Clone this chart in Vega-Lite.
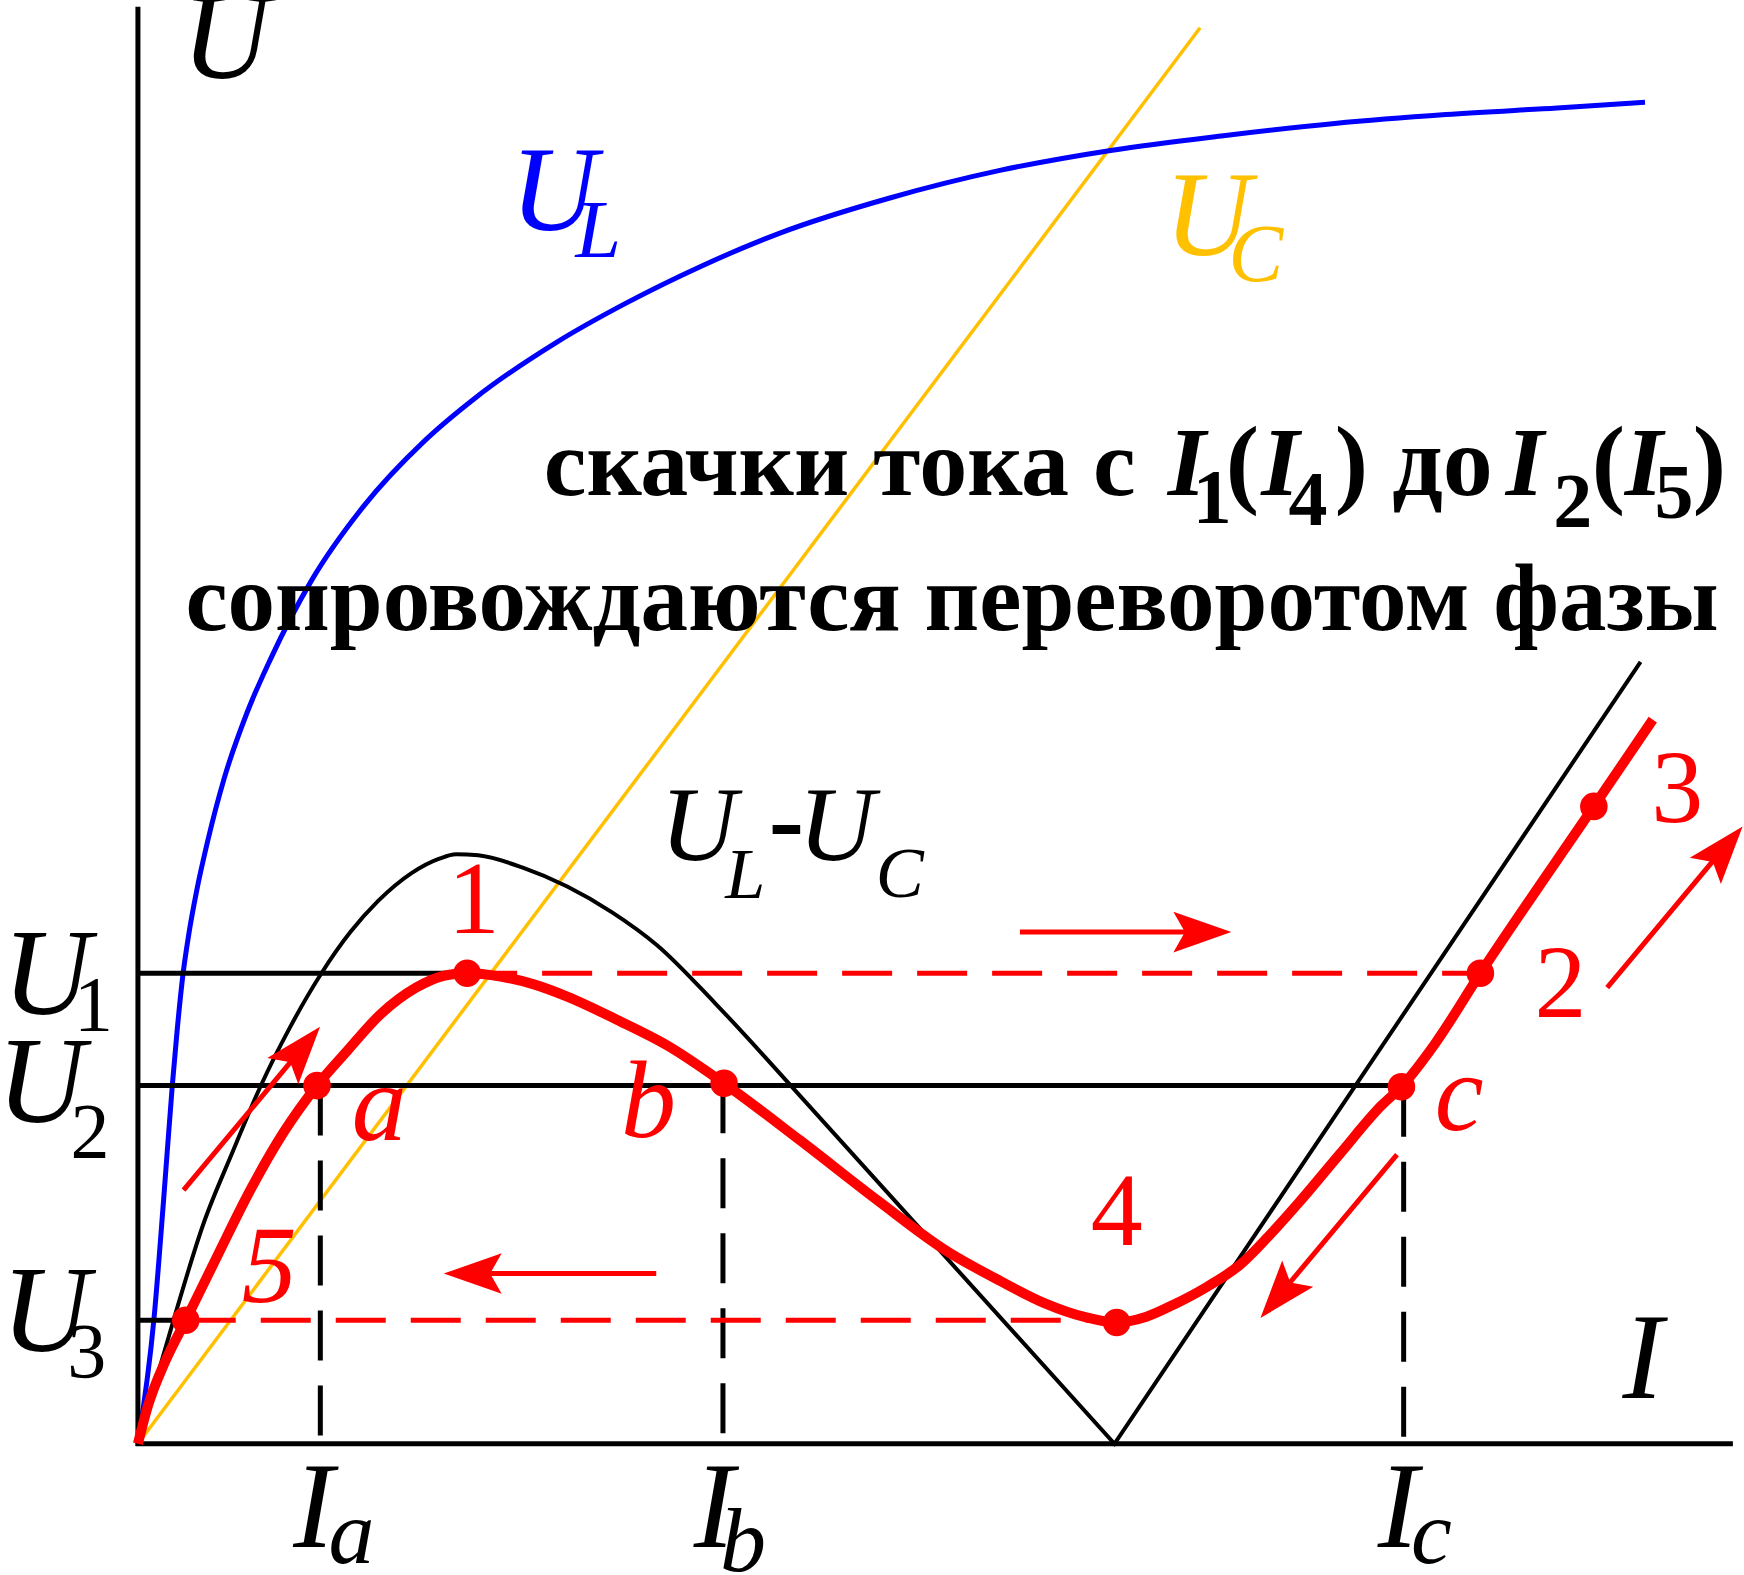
{
  "$schema": "https://vega.github.io/schema/vega-lite/v6.json",
  "width": 1744,
  "height": 1575,
  "autosize": {"type": "none"},
  "padding": 0,
  "background": "white",
  "config": {"view": {"stroke": null}},
  "datasets": {
    "ul": [
      {"I": 0, "U": 0}, {"I": 14.5, "U": 113}, {"I": 23, "U": 218}, {"I": 30.9, "U": 322},
      {"I": 35.3, "U": 372}, {"I": 40.5, "U": 422}, {"I": 45.4, "U": 456}, {"I": 53, "U": 498},
      {"I": 63, "U": 543}, {"I": 77.5, "U": 598}, {"I": 98, "U": 657}, {"I": 119, "U": 705},
      {"I": 156, "U": 776}, {"I": 203, "U": 843}, {"I": 257, "U": 901}, {"I": 303, "U": 940},
      {"I": 376, "U": 990}, {"I": 438, "U": 1025}, {"I": 505, "U": 1058}, {"I": 576, "U": 1088},
      {"I": 676, "U": 1120}, {"I": 776, "U": 1145}, {"I": 876, "U": 1163}, {"I": 976, "U": 1176},
      {"I": 1076, "U": 1187}, {"I": 1176, "U": 1195}, {"I": 1276, "U": 1201}, {"I": 1355, "U": 1206}
    ],
    "uc": [{"I": 0, "U": 0}, {"I": 955, "U": 1273}],
    "diffc": [
      {"I": 0, "U": 0}, {"I": 16, "U": 56}, {"I": 32, "U": 111}, {"I": 59, "U": 198},
      {"I": 85, "U": 262}, {"I": 111, "U": 323}, {"I": 136, "U": 373}, {"I": 165, "U": 423},
      {"I": 191, "U": 460}, {"I": 216, "U": 488}, {"I": 246, "U": 513}, {"I": 271, "U": 526},
      {"I": 286, "U": 530}, {"I": 306, "U": 529}, {"I": 346, "U": 518}, {"I": 386, "U": 501},
      {"I": 426, "U": 478}, {"I": 467, "U": 448}, {"I": 519, "U": 396}, {"I": 587, "U": 322}
    ],
    "diffv": [{"I": 587, "U": 322}, {"I": 878, "U": 0}, {"I": 1351, "U": 703}],
    "red": [
      {"I": 0, "U": 0}, {"I": 9, "U": 34}, {"I": 25, "U": 75}, {"I": 43, "U": 111},
      {"I": 71, "U": 168}, {"I": 101, "U": 228}, {"I": 131, "U": 280}, {"I": 161, "U": 322},
      {"I": 188, "U": 353}, {"I": 218, "U": 386}, {"I": 250, "U": 410}, {"I": 276, "U": 421},
      {"I": 296, "U": 423}, {"I": 326, "U": 420}, {"I": 356, "U": 413}, {"I": 386, "U": 402},
      {"I": 431, "U": 381}, {"I": 476, "U": 358}, {"I": 527, "U": 324},
      {"I": 595, "U": 273}, {"I": 666, "U": 218}, {"I": 726, "U": 174}, {"I": 776, "U": 146},
      {"I": 816, "U": 126}, {"I": 851, "U": 114}, {"I": 880, "U": 109}, {"I": 906, "U": 114},
      {"I": 931, "U": 125}, {"I": 961, "U": 141}, {"I": 991, "U": 161}, {"I": 1016, "U": 186},
      {"I": 1043, "U": 216}, {"I": 1081, "U": 261}, {"I": 1118, "U": 304}, {"I": 1136, "U": 321},
      {"I": 1165, "U": 358}, {"I": 1207, "U": 423}, {"I": 1309, "U": 573}, {"I": 1362, "U": 651}
    ],
    "dots": [
      {"I": 43, "U": 111}, {"I": 161, "U": 322}, {"I": 296, "U": 423}, {"I": 527, "U": 324},
      {"I": 880, "U": 109}, {"I": 1136, "U": 321}, {"I": 1207, "U": 423}, {"I": 1309, "U": 573}
    ],
    "axes": [
      {"I": 0, "U": -2, "I2": 0, "U2": 1292},
      {"I": -2, "U": 0, "I2": 1434, "U2": 0}
    ],
    "hlines": [
      {"I": 0, "U": 423, "I2": 282, "U2": 423},
      {"I": 0, "U": 322, "I2": 1136, "U2": 322},
      {"I": 0, "U": 111, "I2": 43, "U2": 111}
    ],
    "vdash": [
      {"I": 164, "U": 322, "I2": 164, "U2": 0},
      {"I": 526, "U": 324, "I2": 526, "U2": 0},
      {"I": 1138, "U": 321, "I2": 1138, "U2": 0}
    ],
    "rdash": [
      {"I": 296, "U": 423, "I2": 1207, "U2": 423},
      {"I": 43, "U": 111, "I2": 880, "U2": 111}
    ],
    "shafts": [
      {"I": 41, "U": 228, "I2": 143, "U2": 350},
      {"I": 1321, "U": 410, "I2": 1422, "U2": 531},
      {"I": 1132, "U": 260, "I2": 1030, "U2": 138},
      {"I": 793, "U": 460, "I2": 955, "U2": 460},
      {"I": 466, "U": 153, "I2": 305, "U2": 153}
    ],
    "head40": [{"I": 147, "U": 355}, {"I": 1426, "U": 535}],
    "head220": [{"I": 1026, "U": 133}],
    "head90": [{"I": 957, "U": 460}],
    "head270": [{"I": 301, "U": 153}],
    "italicBig": [
      {"I": 79, "U": 1228, "t": "U"},
      {"I": -82, "U": 386, "t": "U"},
      {"I": -87, "U": 289, "t": "U"},
      {"I": -83, "U": 83, "t": "U"},
      {"I": 1353, "U": 41, "t": "I"},
      {"I": 158, "U": -93, "t": "I"},
      {"I": 518, "U": -93, "t": "I"},
      {"I": 1133, "U": -93, "t": "I"}
    ],
    "italicSub": [
      {"I": 192, "U": -107, "t": "a"},
      {"I": 544, "U": -114, "t": "b"},
      {"I": 1163, "U": -107, "t": "c"}
    ],
    "digitSub": [
      {"I": -40, "U": 372, "t": "1"},
      {"I": -43, "U": 258, "t": "2"},
      {"I": -46, "U": 60, "t": "3"}
    ],
    "ulMain": [{"I": 374, "U": 1091, "t": "U"}],
    "ulSub": [{"I": 414, "U": 1067, "t": "L"}],
    "ucMain": [{"I": 962, "U": 1069, "t": "U"}],
    "ucSub": [{"I": 1005, "U": 1045, "t": "C"}],
    "dMain": [{"I": 504, "U": 525, "t": "U"}, {"I": 628, "U": 525, "t": "U"}],
    "dSub": [{"I": 546, "U": 491, "t": "L"}, {"I": 685, "U": 492, "t": "C"}],
    "dMinus": [{"I": 583, "U": 530, "t": "-"}],
    "redDigits": [
      {"I": 302, "U": 459, "t": "1"},
      {"I": 1279, "U": 384, "t": "2"},
      {"I": 1384, "U": 559, "t": "3"},
      {"I": 880, "U": 179, "t": "4"}
    ],
    "redItalic": [
      {"I": 118, "U": 127, "t": "5"},
      {"I": 217, "U": 273, "t": "a"},
      {"I": 459, "U": 276, "t": "b"},
      {"I": 1188, "U": 282, "t": "c"}
    ],
    "ruLine2": [{"I": 732, "U": 732, "t": "сопровождаются переворотом фазы"}],
    "ruLine1a": [{"I": 897, "U": 853, "t": "скачки тока с"}],
    "ruLine1b": [
      {"I": 993, "U": 853, "t": "("},
      {"I": 1091, "U": 853, "t": ")"},
      {"I": 1173, "U": 853, "t": "до"},
      {"I": 1322, "U": 853, "t": "("},
      {"I": 1413, "U": 853, "t": ")"}
    ],
    "ruI": [
      {"I": 943, "U": 853, "t": "I"},
      {"I": 1027, "U": 853, "t": "I"},
      {"I": 1247, "U": 853, "t": "I"},
      {"I": 1354, "U": 853, "t": "I"}
    ],
    "ruSub": [
      {"I": 966, "U": 828, "t": "1"},
      {"I": 1052, "U": 826, "t": "4"},
      {"I": 1290, "U": 824, "t": "2"},
      {"I": 1381, "U": 832, "t": "5"}
    ]
  },
  "encoding": {
    "x": {"field": "I", "type": "quantitative", "scale": {"domain": [-124, 1444], "nice": false, "zero": false}, "axis": null},
    "y": {"field": "U", "type": "quantitative", "scale": {"domain": [-118, 1298], "nice": false, "zero": false}, "axis": null}
  },
  "layer": [
    {"data": {"name": "uc"}, "mark": {"type": "line", "color": "#FFC000", "strokeWidth": 3.5}},
    {"data": {"name": "ul"}, "mark": {"type": "line", "color": "#0000FF", "strokeWidth": 5, "interpolate": "monotone"}},
    {"data": {"name": "diffc"}, "mark": {"type": "line", "color": "black", "strokeWidth": 4, "interpolate": "monotone"}},
    {"data": {"name": "diffv"}, "mark": {"type": "line", "color": "black", "strokeWidth": 4, "strokeJoin": "miter"}},
    {"data": {"name": "hlines"}, "mark": {"type": "rule", "color": "black", "strokeWidth": 5},
     "encoding": {"x2": {"field": "I2"}, "y2": {"field": "U2"}}},
    {"data": {"name": "axes"}, "mark": {"type": "rule", "color": "black", "strokeWidth": 5},
     "encoding": {"x2": {"field": "I2"}, "y2": {"field": "U2"}}},
    {"data": {"name": "vdash"}, "mark": {"type": "rule", "color": "black", "strokeWidth": 5, "strokeDash": [50, 25]},
     "encoding": {"x2": {"field": "I2"}, "y2": {"field": "U2"}}},
    {"data": {"name": "rdash"}, "mark": {"type": "rule", "color": "#FF0000", "strokeWidth": 5, "strokeDash": [50, 25]},
     "encoding": {"x2": {"field": "I2"}, "y2": {"field": "U2"}}},
    {"data": {"name": "red"}, "mark": {"type": "line", "color": "#FF0000", "strokeWidth": 10, "interpolate": "monotone"}},
    {"data": {"name": "dots"}, "mark": {"type": "point", "filled": true, "color": "#FF0000", "opacity": 1, "size": 760, "strokeWidth": 0}},
    {"data": {"name": "shafts"}, "mark": {"type": "rule", "color": "#FF0000", "strokeWidth": 5},
     "encoding": {"x2": {"field": "I2"}, "y2": {"field": "U2"}}},
    {"data": {"name": "head40"}, "mark": {"type": "point", "filled": true, "color": "#FF0000", "opacity": 1, "size": 3364, "strokeWidth": 0, "angle": 40, "shape": "M0,-1L0.7,1L0,0.6L-0.7,1Z"}},
    {"data": {"name": "head220"}, "mark": {"type": "point", "filled": true, "color": "#FF0000", "opacity": 1, "size": 3364, "strokeWidth": 0, "angle": 220, "shape": "M0,-1L0.7,1L0,0.6L-0.7,1Z"}},
    {"data": {"name": "head90"}, "mark": {"type": "point", "filled": true, "color": "#FF0000", "opacity": 1, "size": 3364, "strokeWidth": 0, "angle": 90, "shape": "M0,-1L0.7,1L0,0.6L-0.7,1Z"}},
    {"data": {"name": "head270"}, "mark": {"type": "point", "filled": true, "color": "#FF0000", "opacity": 1, "size": 3364, "strokeWidth": 0, "angle": 270, "shape": "M0,-1L0.7,1L0,0.6L-0.7,1Z"}},
    {"data": {"name": "italicBig"}, "mark": {"type": "text", "font": "Liberation Serif", "fontStyle": "italic", "fontSize": 122, "fill": "black", "align": "center", "baseline": "alphabetic"},
     "encoding": {"text": {"field": "t"}}},
    {"data": {"name": "italicSub"}, "mark": {"type": "text", "font": "Liberation Serif", "fontStyle": "italic", "fontSize": 92, "fill": "black", "align": "center", "baseline": "alphabetic"},
     "encoding": {"text": {"field": "t"}}},
    {"data": {"name": "digitSub"}, "mark": {"type": "text", "font": "Liberation Serif", "fontSize": 78, "fill": "black", "align": "center", "baseline": "alphabetic"},
     "encoding": {"text": {"field": "t"}}},
    {"data": {"name": "ulMain"}, "mark": {"type": "text", "font": "Liberation Serif", "fontStyle": "italic", "fontSize": 120, "fill": "#0000FF", "align": "center", "baseline": "alphabetic"},
     "encoding": {"text": {"field": "t"}}},
    {"data": {"name": "ulSub"}, "mark": {"type": "text", "font": "Liberation Serif", "fontStyle": "italic", "fontSize": 82, "fill": "#0000FF", "align": "center", "baseline": "alphabetic"},
     "encoding": {"text": {"field": "t"}}},
    {"data": {"name": "ucMain"}, "mark": {"type": "text", "font": "Liberation Serif", "fontStyle": "italic", "fontSize": 120, "fill": "#FFC000", "align": "center", "baseline": "alphabetic"},
     "encoding": {"text": {"field": "t"}}},
    {"data": {"name": "ucSub"}, "mark": {"type": "text", "font": "Liberation Serif", "fontStyle": "italic", "fontSize": 82, "fill": "#FFC000", "align": "center", "baseline": "alphabetic"},
     "encoding": {"text": {"field": "t"}}},
    {"data": {"name": "dMain"}, "mark": {"type": "text", "font": "Liberation Serif", "fontStyle": "italic", "fontSize": 106, "fill": "black", "align": "center", "baseline": "alphabetic"},
     "encoding": {"text": {"field": "t"}}},
    {"data": {"name": "dSub"}, "mark": {"type": "text", "font": "Liberation Serif", "fontStyle": "italic", "fontSize": 72, "fill": "black", "align": "center", "baseline": "alphabetic"},
     "encoding": {"text": {"field": "t"}}},
    {"data": {"name": "dMinus"}, "mark": {"type": "text", "font": "Liberation Serif", "fontWeight": "bold", "fontSize": 106, "fill": "black", "align": "center", "baseline": "alphabetic"},
     "encoding": {"text": {"field": "t"}}},
    {"data": {"name": "redDigits"}, "mark": {"type": "text", "font": "Liberation Serif", "fontSize": 104, "fill": "#FF0000", "align": "center", "baseline": "alphabetic"},
     "encoding": {"text": {"field": "t"}}},
    {"data": {"name": "redItalic"}, "mark": {"type": "text", "font": "Liberation Serif", "fontStyle": "italic", "fontSize": 110, "fill": "#FF0000", "align": "center", "baseline": "alphabetic"},
     "encoding": {"text": {"field": "t"}}},
    {"data": {"name": "ruLine2"}, "mark": {"type": "text", "font": "Liberation Serif", "fontWeight": "bold", "fontSize": 95, "fill": "black", "align": "center", "baseline": "alphabetic"},
     "encoding": {"text": {"field": "t"}}},
    {"data": {"name": "ruLine1a"}, "mark": {"type": "text", "font": "Liberation Serif", "fontWeight": "bold", "fontSize": 96, "fill": "black", "align": "right", "baseline": "alphabetic"},
     "encoding": {"text": {"field": "t"}}},
    {"data": {"name": "ruLine1b"}, "mark": {"type": "text", "font": "Liberation Serif", "fontWeight": "bold", "fontSize": 100, "fill": "black", "align": "center", "baseline": "alphabetic"},
     "encoding": {"text": {"field": "t"}}},
    {"data": {"name": "ruI"}, "mark": {"type": "text", "font": "Liberation Serif", "fontStyle": "italic", "fontWeight": "bold", "fontSize": 98, "fill": "black", "align": "center", "baseline": "alphabetic"},
     "encoding": {"text": {"field": "t"}}},
    {"data": {"name": "ruSub"}, "mark": {"type": "text", "font": "Liberation Serif", "fontWeight": "bold", "fontSize": 78, "fill": "black", "align": "center", "baseline": "alphabetic"},
     "encoding": {"text": {"field": "t"}}}
  ]
}
